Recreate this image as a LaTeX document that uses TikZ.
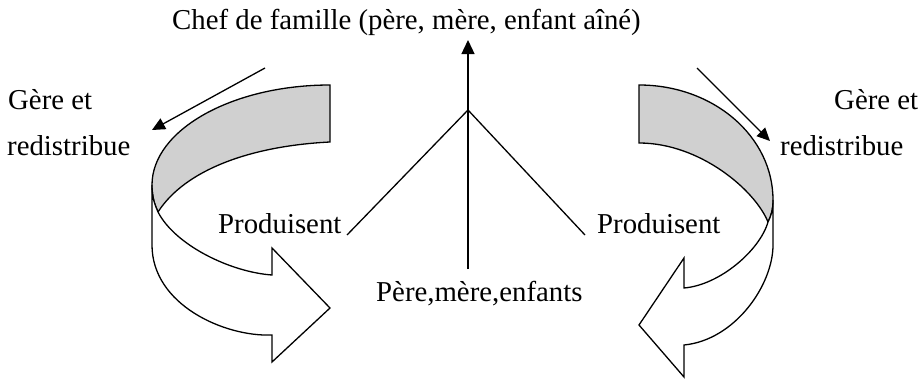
\documentclass[tikz,border=0pt]{standalone}
\usepackage{fontspec}
\setmainfont{Liberation Serif}
\usetikzlibrary{arrows.meta}
\definecolor{backgray}{RGB}{208,208,208}
\tikzset{
  lbl/.style={anchor=base west, inner sep=0pt, font=\fontsize{28.8}{34}\selectfont},
  ln/.style={line width=1.3pt, line join=miter},
  ribbonback/.style={ln, fill=backgray},
  ribbonfront/.style={ln, fill=white},
  headarrow/.style={ln, -{Triangle[length=14pt,width=13pt]}}
}
\begin{document}
\begin{tikzpicture}[x=1pt,y=-1pt]
\useasboundingbox (0,0) rectangle (924,380);

% texts
\node[lbl] (chef) at (172,29) {Chef de famille (père, mère, enfant aîné)};
\node[lbl] (gl1) at (8,109) {Gère et};
\node[lbl] (gl2) at (7,155) {redistribue};
\node[lbl] (gr1) at (834,109) {Gère et};
\node[lbl] (gr2) at (780,155) {redistribue};
\node[lbl] (pl) at (218,233) {Produisent};
\node[lbl] (pr) at (597,233) {Produisent};
\node[lbl] (pme) at (376,301) {Père,mère,enfants};

% central structure
\coordinate (apex) at (468,110);
\coordinate (vbot) at (468,269);
\coordinate (vtop) at (468,40);
\coordinate (lend) at (347,235);
\coordinate (rend) at (585,235);
\draw[headarrow] (vbot) -- (vtop);
\draw[ln] (lend) -- (apex) -- (rend);

% left curved ribbon arrow
\draw[ribbonback] (330,85) .. controls (232,85) and (152,130) .. (152,185)
  .. controls (152,198) and (155,205) .. (158,212)
  .. controls (185,170) and (250,146) .. (330,142) -- cycle;
\draw[ribbonfront] (152,185) .. controls (152,198) and (155,205) .. (158,212)
  .. controls (175,245) and (230,272) .. (272,275)
  -- (272,248) -- (330,308) -- (272,362) -- (272,335)
  .. controls (225,337) and (152,305) .. (152,245) -- cycle;

% right curved ribbon arrow
\draw[ribbonback] (639,85) .. controls (713,85) and (773,136) .. (773,200)
  .. controls (773,210) and (771,216) .. (768,222)
  .. controls (755,190) and (700,143) .. (639,143) -- cycle;
\draw[ribbonfront] (773,200) .. controls (773,210) and (771,216) .. (768,222)
  .. controls (760,250) and (720,285) .. (684,288)
  -- (684,258) -- (639,325) -- (684,377) -- (684,345)
  .. controls (735,340) and (773,285) .. (773,245) -- cycle;

% straight arrows "Gère et redistribue"
\coordinate (las) at (265,68);
\coordinate (lae) at (152,130);
\coordinate (ras) at (697,68);
\coordinate (rae) at (770,141);
\draw[ln, -{Triangle[length=13pt,width=12pt]}] (las) -- (lae);
\draw[ln, -{Triangle[length=13pt,width=12pt]}] (ras) -- (rae);
\end{tikzpicture}
\end{document}
